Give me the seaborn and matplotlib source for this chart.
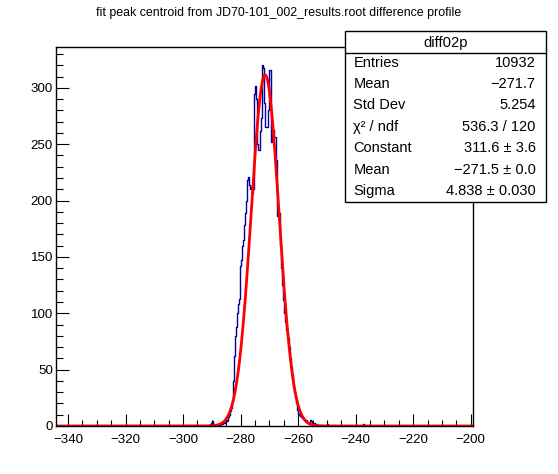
import numpy as np
import pandas as pd
import matplotlib
matplotlib.use("Agg")
import matplotlib.pyplot as plt
from matplotlib.patches import Rectangle
from matplotlib.ticker import MultipleLocator
import seaborn as sns

# ---------------- data ----------------
title = "fit peak centroid from JD70-101_002_results.root difference profile"
hist_lo = -344.3
bin_w = 0.3473
n_bins = 418
peak_start = -292.5  # left edge of first bin in the counts list
counts = [
    0, 0, 1, 0, 1,
    2, 3, 4, 2, 1,
    1, 1, 0, 1, 1,
    1, 2, 2, 3, 3,
    4, 5, 4, 8, 10,
    13, 16, 22, 28, 40,
    62, 80, 88, 100, 108,
    113, 142, 147, 160, 165,
    178, 189, 200, 218, 221,
    214, 210, 212, 207, 210,
    295, 302, 290, 250, 245,
    245, 262, 273, 320, 318,
    287, 265, 265, 265, 280,
    316, 316, 252, 263, 263,
    256, 256, 236, 186, 186,
    189, 160, 140, 125, 112,
    100, 92, 85, 82, 78,
    70, 60, 52, 45, 35,
    30, 25, 20, 14, 11,
    10, 9, 8, 7, 6,
    5, 4, 5, 3, 3,
    2, 5, 4, 3, 2,
    3, 1, 2, 1, 0,
    1, 0, 0, 1, 0,
    0, 0, 1, 2, 1,
    0, 0, 1, 0, 0,
    1, 0, 0, 0, 0,
    0, 0, 0, 0, 0,
    0, 0, 0, 0, 1,
    0, 0, 0, 0, 0,
    0, 0, 0, 0, 0,
    0, 0, 0, 1, 2,
    0,
]
fit_constant = 311.6
fit_mean = -271.5
fit_sigma = 4.838

stats_title = "diff02p"
stats_labels = ["Entries", "Mean", "Std Dev", "χ² / ndf", "Constant", "Mean", "Sigma"]
stats_values = ["10932", "\u2212271.7", "5.254", "536.3 / 120", "311.6 \u00b1 3.6",
                "\u2212271.5 \u00b1 0.0", "4.838 \u00b1 0.030"]

xticks = [-340, -320, -300, -280, -260, -240, -220, -200]
yticks = [0, 50, 100, 150, 200, 250, 300]

# ---------------- build table ----------------
edges = hist_lo + bin_w * np.arange(n_bins + 1)
full = np.zeros(n_bins)
k0 = int(round((peak_start - hist_lo) / bin_w))
full[k0:k0 + len(counts)] = counts
centers = 0.5 * (edges[:-1] + edges[1:])
df = pd.DataFrame({"x": centers, "w": full})

xs = np.linspace(edges[0], edges[-1], 2000)
fit_df = pd.DataFrame({"x": xs,
                       "y": fit_constant * np.exp(-0.5 * ((xs - fit_mean) / fit_sigma) ** 2)})

# ---------------- style ----------------
sns.set_style("ticks")
plt.rcParams["font.family"] = ["Liberation Sans", "DejaVu Sans"]
plt.rcParams["axes.unicode_minus"] = True
for k in ["text.color", "axes.labelcolor", "xtick.color", "ytick.color", "axes.edgecolor"]:
    plt.rcParams[k] = "black"

fig = plt.figure(figsize=(5.58, 4.74), dpi=100)
ax = fig.add_axes([0.0998, 0.1013, 0.848 - 0.0998, 0.9002 - 0.1013])

sns.histplot(data=df, x="x", weights="w", binwidth=bin_w,
             binrange=(float(edges[0]), float(edges[-1])), element="step", fill=False,
             color="#000099", linewidth=1.0, ax=ax)
sns.lineplot(data=fit_df, x="x", y="y", color="#ff0000", linewidth=2.0, ax=ax)

ax.set_xlim(hist_lo, -199.15)
ax.set_ylim(0, 336)
ax.set_xlabel("")
ax.set_ylabel("")
ax.set_xticks(xticks)
ax.set_yticks(yticks)
ax.set_yticklabels([str(v) for v in yticks])
ax.xaxis.set_minor_locator(MultipleLocator(5))
ax.yaxis.set_minor_locator(MultipleLocator(10))
ax.tick_params(axis="both", which="both", direction="in", colors="black",
               labelsize=9.6, top=False, right=False, bottom=True, left=True)
ax.tick_params(axis="x", which="major", length=8.5, width=0.8, pad=5.5)
ax.tick_params(axis="x", which="minor", length=4.3, width=0.8)
ax.tick_params(axis="y", which="major", length=9.5, width=0.8, pad=2)
ax.tick_params(axis="y", which="minor", length=5.0, width=0.8)
for s in ax.spines.values():
    s.set_visible(True)
    s.set_color("black")
    s.set_linewidth(1.0)

fig.text(0.5, 1 - 13 / 474, title, ha="center", va="center", fontsize=8.9, color="black")

# ---------------- stats box ----------------
W, H = 558.0, 474.0
bx0, bx1, by0, by1 = 345 / W, 546 / W, 1 - 201.7 / H, 1 - 30.7 / H
fig.add_artist(Rectangle((bx0, by0), bx1 - bx0, by1 - by0, transform=fig.transFigure,
                         facecolor="white", edgecolor="black", linewidth=1.0, zorder=10))
div_y = 1 - 53.3 / H
fig.add_artist(plt.Line2D([bx0, bx1], [div_y, div_y], transform=fig.transFigure,
                          color="black", linewidth=1.0, zorder=11))
fig.text((bx0 + bx1) / 2, 1 - 42.5 / H, stats_title, ha="center", va="center",
         fontsize=10.6, color="black", zorder=12)
row_y = [62.7, 84.0, 105.4, 126.8, 148.2, 169.6, 191.0]
for lab, val, yy in zip(stats_labels, stats_values, row_y):
    fig.text(353.3 / W, 1 - yy / H, lab, ha="left", va="center", fontsize=10.5,
             color="black", zorder=12)
    fig.text(535.5 / W, 1 - yy / H, val, ha="right", va="center", fontsize=10.5,
             color="black", zorder=12)

fig.savefig("out.png", dpi=100)
